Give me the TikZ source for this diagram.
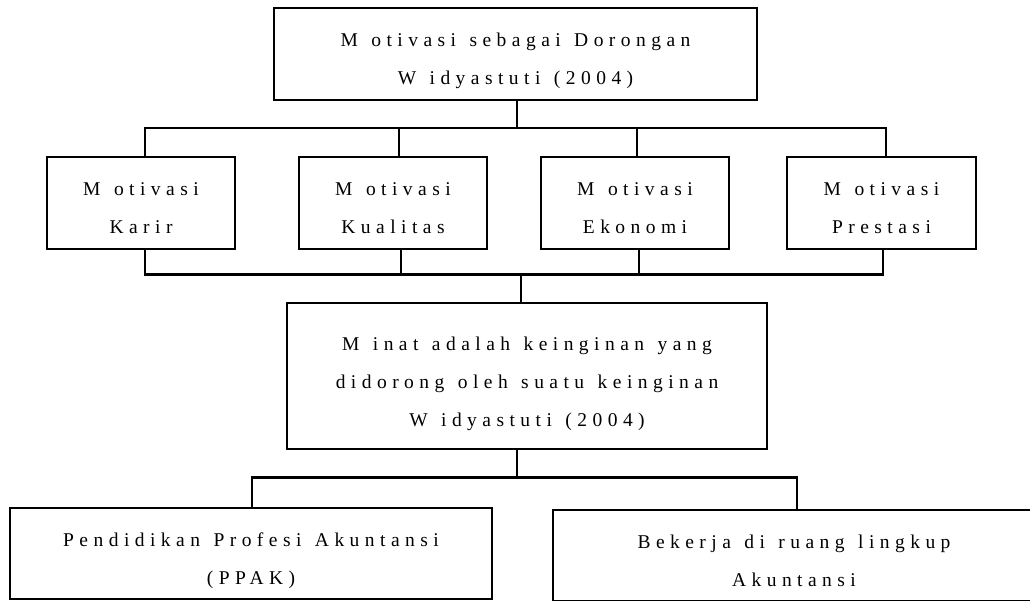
\documentclass[tikz,border=0pt]{standalone}
\usepackage{fontspec}
\newfontfamily\lsfont[LetterSpace=28,WordSpace=1.3]{Liberation Serif}
\newcommand\hstrut{\rule{0pt}{29pt}}
\newcommand\dstrut{\rule[-5pt]{0pt}{5pt}}
\tikzset{
  box/.style={draw=black, line width=2.6pt, rectangle, inner sep=0pt, align=center,
    font={\lsfont\fontsize{19.5}{38}\selectfont}},
  small/.style={box, minimum width=188pt, minimum height=92pt},
  conn/.style={draw=black, line width=2.1pt},
}
\begin{document}
\begin{tikzpicture}[x=1pt,y=-1pt]
\useasboundingbox (0,0) rectangle (1030,601);
\node[box, minimum width=483pt, minimum height=92pt] (top) at (515.5,54)
  {\hstrut M otivasi sebagai Dorongan\\W idyastuti (2004)\dstrut};
\node[small] (karir) at (141,203) {\hstrut M otivasi\\Karir\dstrut};
\node[small] (kualitas) at (393,203) {\hstrut M otivasi\\Kualitas\dstrut};
\node[small] (ekonomi) at (635,203) {\hstrut M otivasi\\Ekonomi\dstrut};
\node[small, minimum width=189pt] (prestasi) at (881.5,203) {\hstrut M otivasi\\Prestasi\dstrut};
\node[box, minimum width=480pt, minimum height=146pt] (mid) at (527,376)
  {\hstrut M inat adalah keinginan yang\\didorong oleh suatu keinginan\\W idyastuti (2004)\dstrut};
\node[box, minimum width=482pt, minimum height=91pt] (ppak) at (251,553.5)
  {\hstrut Pendidikan Profesi Akuntansi\\(PPAK)\dstrut};
\node[box, minimum width=482pt, minimum height=91pt] (kerja) at (794,555.5)
  {\hstrut Bekerja di ruang lingkup\\Akuntansi\dstrut};
% upper bus
\coordinate (busA) at (517,128);
\draw[conn] ([xshift=1.5pt]top.south) -- ([xshift=1.5pt]top.south |- busA);
\draw[conn] ([xshift=4pt]karir.north) |- ([xshift=4.5pt]prestasi.north |- busA) -- ([xshift=4.5pt]prestasi.north);
\draw[conn] ([xshift=6pt]kualitas.north) -- ([xshift=6pt]kualitas.north |- busA);
\draw[conn] ([xshift=2pt]ekonomi.north) -- ([xshift=2pt]ekonomi.north |- busA);
% lower bus
\coordinate (busB) at (521,274.5);
\draw[conn] ([xshift=4pt]karir.south) |- ([xshift=1.5pt]prestasi.south |- busB) -- ([xshift=1.5pt]prestasi.south);
\draw[conn] ([xshift=8pt]kualitas.south) -- ([xshift=8pt]kualitas.south |- busB);
\draw[conn] ([xshift=4pt]ekonomi.south) -- ([xshift=4pt]ekonomi.south |- busB);
\draw[conn] ([xshift=-6pt]mid.north) -- ([xshift=-6pt]mid.north |- busB);
% bottom bus
\coordinate (busC) at (517,477.5);
\draw[conn] ([xshift=-10pt]mid.south) -- ([xshift=-10pt]mid.south |- busC);
\draw[conn] ([xshift=1pt]ppak.north) |- ([xshift=3pt]kerja.north |- busC) -- ([xshift=3pt]kerja.north);
\end{tikzpicture}
\end{document}
